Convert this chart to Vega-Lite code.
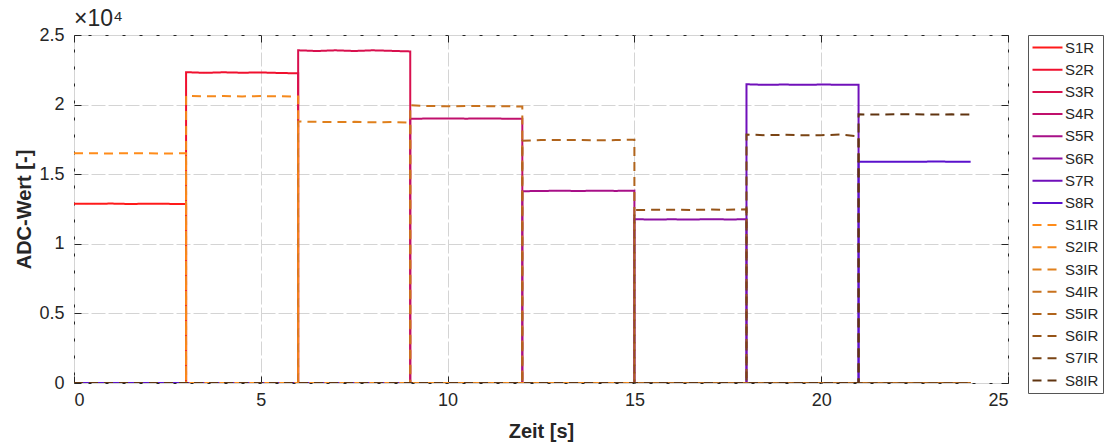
{
  "$schema": "https://vega.github.io/schema/vega-lite/v6.json",
  "width": 934,
  "height": 348,
  "autosize": "none",
  "padding": {"left": 74, "top": 35, "right": 107, "bottom": 63},
  "background": "white",
  "title": {"text": "×10⁴", "anchor": "start", "frame": "group", "fontSize": 23, "fontWeight": "normal", "font": "Liberation Sans", "color": "#262626", "offset": -5},
  "config": {
    "view": {"stroke": "#262626", "strokeWidth": 1},
    "font": "Liberation Sans"
  },
  "data": {"values": [
    {"s":"S1R","k":0,"t":0,"v":12880},{"s":"S1R","k":1,"t":0.5,"v":12870},{"s":"S1R","k":2,"t":1,"v":12890},{"s":"S1R","k":3,"t":1.5,"v":12860},{"s":"S1R","k":4,"t":2,"v":12880},{"s":"S1R","k":5,"t":2.5,"v":12870},{"s":"S1R","k":6,"t":3,"v":12850},{"s":"S1R","k":7,"t":3,"v":0},{"s":"S1R","k":8,"t":24,"v":0},
    {"s":"S2R","k":0,"t":0,"v":0},{"s":"S2R","k":1,"t":3,"v":0},{"s":"S2R","k":2,"t":3,"v":22330},{"s":"S2R","k":3,"t":3.5,"v":22280},{"s":"S2R","k":4,"t":4,"v":22320},{"s":"S2R","k":5,"t":4.5,"v":22290},{"s":"S2R","k":6,"t":5,"v":22310},{"s":"S2R","k":7,"t":5.5,"v":22270},{"s":"S2R","k":8,"t":6,"v":22250},{"s":"S2R","k":9,"t":6,"v":0},{"s":"S2R","k":10,"t":24,"v":0},
    {"s":"S3R","k":0,"t":0,"v":0},{"s":"S3R","k":1,"t":6,"v":0},{"s":"S3R","k":2,"t":6,"v":23900},{"s":"S3R","k":3,"t":6.5,"v":23850},{"s":"S3R","k":4,"t":7,"v":23900},{"s":"S3R","k":5,"t":7.5,"v":23850},{"s":"S3R","k":6,"t":8,"v":23900},{"s":"S3R","k":7,"t":8.5,"v":23860},{"s":"S3R","k":8,"t":9,"v":23820},{"s":"S3R","k":9,"t":9,"v":0},{"s":"S3R","k":10,"t":24,"v":0},
    {"s":"S4R","k":0,"t":0,"v":0},{"s":"S4R","k":1,"t":9,"v":0},{"s":"S4R","k":2,"t":9,"v":18980},{"s":"S4R","k":3,"t":9.5,"v":19000},{"s":"S4R","k":4,"t":10,"v":19010},{"s":"S4R","k":5,"t":10.5,"v":18990},{"s":"S4R","k":6,"t":11,"v":19010},{"s":"S4R","k":7,"t":11.5,"v":18990},{"s":"S4R","k":8,"t":12,"v":18980},{"s":"S4R","k":9,"t":12,"v":0},{"s":"S4R","k":10,"t":24,"v":0},
    {"s":"S5R","k":0,"t":0,"v":0},{"s":"S5R","k":1,"t":12,"v":0},{"s":"S5R","k":2,"t":12,"v":13780},{"s":"S5R","k":3,"t":12.5,"v":13790},{"s":"S5R","k":4,"t":13,"v":13820},{"s":"S5R","k":5,"t":13.5,"v":13790},{"s":"S5R","k":6,"t":14,"v":13820},{"s":"S5R","k":7,"t":14.5,"v":13800},{"s":"S5R","k":8,"t":15,"v":13820},{"s":"S5R","k":9,"t":15,"v":0},{"s":"S5R","k":10,"t":24,"v":0},
    {"s":"S6R","k":0,"t":0,"v":0},{"s":"S6R","k":1,"t":15,"v":0},{"s":"S6R","k":2,"t":15,"v":11770},{"s":"S6R","k":3,"t":15.5,"v":11740},{"s":"S6R","k":4,"t":16,"v":11760},{"s":"S6R","k":5,"t":16.5,"v":11740},{"s":"S6R","k":6,"t":17,"v":11770},{"s":"S6R","k":7,"t":17.5,"v":11750},{"s":"S6R","k":8,"t":18,"v":11760},{"s":"S6R","k":9,"t":18,"v":0},{"s":"S6R","k":10,"t":24,"v":0},
    {"s":"S7R","k":0,"t":0,"v":0},{"s":"S7R","k":1,"t":18,"v":0},{"s":"S7R","k":2,"t":18,"v":21460},{"s":"S7R","k":3,"t":18.5,"v":21420},{"s":"S7R","k":4,"t":19,"v":21440},{"s":"S7R","k":5,"t":19.5,"v":21420},{"s":"S7R","k":6,"t":20,"v":21440},{"s":"S7R","k":7,"t":20.5,"v":21430},{"s":"S7R","k":8,"t":21,"v":21420},{"s":"S7R","k":9,"t":21,"v":0},{"s":"S7R","k":10,"t":24,"v":0},
    {"s":"S8R","k":0,"t":0,"v":0},{"s":"S8R","k":1,"t":21,"v":0},{"s":"S8R","k":2,"t":21,"v":15900},{"s":"S8R","k":3,"t":21.5,"v":15890},{"s":"S8R","k":4,"t":22,"v":15900},{"s":"S8R","k":5,"t":22.5,"v":15890},{"s":"S8R","k":6,"t":23,"v":15910},{"s":"S8R","k":7,"t":23.5,"v":15900},{"s":"S8R","k":8,"t":24,"v":15900},
    {"s":"S1IR","k":0,"t":0,"v":16500},{"s":"S1IR","k":1,"t":0.5,"v":16500},{"s":"S1IR","k":2,"t":1,"v":16490},{"s":"S1IR","k":3,"t":1.5,"v":16510},{"s":"S1IR","k":4,"t":2,"v":16500},{"s":"S1IR","k":5,"t":2.5,"v":16490},{"s":"S1IR","k":6,"t":3,"v":16500},{"s":"S1IR","k":7,"t":3,"v":0},{"s":"S1IR","k":8,"t":24,"v":0},
    {"s":"S2IR","k":0,"t":0,"v":0},{"s":"S2IR","k":1,"t":3,"v":0},{"s":"S2IR","k":2,"t":3,"v":20620},{"s":"S2IR","k":3,"t":3.5,"v":20600},{"s":"S2IR","k":4,"t":4,"v":20610},{"s":"S2IR","k":5,"t":4.5,"v":20590},{"s":"S2IR","k":6,"t":5,"v":20610},{"s":"S2IR","k":7,"t":5.5,"v":20600},{"s":"S2IR","k":8,"t":6,"v":20580},{"s":"S2IR","k":9,"t":6,"v":0},{"s":"S2IR","k":10,"t":24,"v":0},
    {"s":"S3IR","k":0,"t":0,"v":0},{"s":"S3IR","k":1,"t":6,"v":0},{"s":"S3IR","k":2,"t":6,"v":18790},{"s":"S3IR","k":3,"t":6.5,"v":18760},{"s":"S3IR","k":4,"t":7,"v":18740},{"s":"S3IR","k":5,"t":7.5,"v":18760},{"s":"S3IR","k":6,"t":8,"v":18730},{"s":"S3IR","k":7,"t":8.5,"v":18750},{"s":"S3IR","k":8,"t":9,"v":18700},{"s":"S3IR","k":9,"t":9,"v":0},{"s":"S3IR","k":10,"t":24,"v":0},
    {"s":"S4IR","k":0,"t":0,"v":0},{"s":"S4IR","k":1,"t":9,"v":0},{"s":"S4IR","k":2,"t":9,"v":19950},{"s":"S4IR","k":3,"t":9.5,"v":19900},{"s":"S4IR","k":4,"t":10,"v":19880},{"s":"S4IR","k":5,"t":10.5,"v":19900},{"s":"S4IR","k":6,"t":11,"v":19890},{"s":"S4IR","k":7,"t":11.5,"v":19880},{"s":"S4IR","k":8,"t":12,"v":19860},{"s":"S4IR","k":9,"t":12,"v":0},{"s":"S4IR","k":10,"t":24,"v":0},
    {"s":"S5IR","k":0,"t":0,"v":0},{"s":"S5IR","k":1,"t":12,"v":0},{"s":"S5IR","k":2,"t":12,"v":17400},{"s":"S5IR","k":3,"t":12.5,"v":17450},{"s":"S5IR","k":4,"t":13,"v":17450},{"s":"S5IR","k":5,"t":13.5,"v":17460},{"s":"S5IR","k":6,"t":14,"v":17430},{"s":"S5IR","k":7,"t":14.5,"v":17450},{"s":"S5IR","k":8,"t":15,"v":17480},{"s":"S5IR","k":9,"t":15,"v":0},{"s":"S5IR","k":10,"t":24,"v":0},
    {"s":"S6IR","k":0,"t":0,"v":0},{"s":"S6IR","k":1,"t":15,"v":0},{"s":"S6IR","k":2,"t":15,"v":12420},{"s":"S6IR","k":3,"t":15.5,"v":12440},{"s":"S6IR","k":4,"t":16,"v":12450},{"s":"S6IR","k":5,"t":16.5,"v":12430},{"s":"S6IR","k":6,"t":17,"v":12460},{"s":"S6IR","k":7,"t":17.5,"v":12440},{"s":"S6IR","k":8,"t":18,"v":12480},{"s":"S6IR","k":9,"t":18,"v":0},{"s":"S6IR","k":10,"t":24,"v":0},
    {"s":"S7IR","k":0,"t":0,"v":0},{"s":"S7IR","k":1,"t":18,"v":0},{"s":"S7IR","k":2,"t":18,"v":17850},{"s":"S7IR","k":3,"t":18.5,"v":17800},{"s":"S7IR","k":4,"t":19,"v":17830},{"s":"S7IR","k":5,"t":19.5,"v":17790},{"s":"S7IR","k":6,"t":20,"v":17800},{"s":"S7IR","k":7,"t":20.5,"v":17850},{"s":"S7IR","k":8,"t":21,"v":17720},{"s":"S7IR","k":9,"t":21,"v":0},{"s":"S7IR","k":10,"t":24,"v":0},
    {"s":"S8IR","k":0,"t":0,"v":0},{"s":"S8IR","k":1,"t":21,"v":0},{"s":"S8IR","k":2,"t":21,"v":19300},{"s":"S8IR","k":3,"t":21.5,"v":19280},{"s":"S8IR","k":4,"t":22,"v":19310},{"s":"S8IR","k":5,"t":22.5,"v":19300},{"s":"S8IR","k":6,"t":23,"v":19290},{"s":"S8IR","k":7,"t":23.5,"v":19300},{"s":"S8IR","k":8,"t":24,"v":19280}
  ]},
  "layer": [
    {
      "mark": {"type": "line", "strokeWidth": 2, "clip": true},
      "encoding": {
        "x": {"field": "t", "type": "quantitative", "scale": {"domain": [0, 25], "nice": false, "zero": false},
          "axis": {"title": "Zeit [s]", "values": [0, 5, 10, 15, 20, 25], "titleFontSize": 20, "titleFontWeight": "bold", "titleColor": "#262626", "titlePadding": 12,
            "labelFontSize": 18, "labelColor": "#262626", "labelPadding": 15, "domain": false, "tickSize": -7, "tickColor": "#262626",
            "grid": true, "gridColor": "#d4d4d4", "gridDash": [14, 3], "gridWidth": 1}},
        "y": {"field": "v", "type": "quantitative", "scale": {"domain": [0, 25000], "nice": false},
          "axis": {"title": "ADC-Wert [-]", "values": [0, 5000, 10000, 15000, 20000, 25000], "labelExpr": "datum.value / 10000", "titleFontSize": 20, "titleFontWeight": "bold", "titleColor": "#262626", "titlePadding": 4,
            "labelFontSize": 18, "labelColor": "#262626", "labelPadding": 17, "domain": false, "tickSize": -7, "tickColor": "#262626",
            "grid": true, "gridColor": "#d4d4d4", "gridDash": [14, 3], "gridWidth": 1}},
        "color": {"field": "s", "type": "nominal",
          "scale": {"domain": ["S1R","S2R","S3R","S4R","S5R","S6R","S7R","S8R","S1IR","S2IR","S3IR","S4IR","S5IR","S6IR","S7IR","S8IR"],
            "range": ["#ff1a1a","#f0102e","#d8104e","#c0106c","#a81088","#8c10a2","#7010ba","#5a10cc","#ff8c1a","#f5891c","#e0801c","#c8721e","#b0641c","#965418","#7a4414","#603410"]},
          "legend": {"title": null, "orient": "none", "legendX": 954, "legendY": 0, "symbolType": "M-2,0H2", "symbolSize": 225, "symbolStrokeWidth": 2,
            "labelFontSize": 15, "labelColor": "#262626", "labelOffset": 9, "rowPadding": 5.2, "padding": 4, "strokeColor": "#555555", "fillColor": "white", "symbolOffset": 7}},
        "strokeDash": {"field": "s", "type": "nominal",
          "scale": {"domain": ["S1R","S2R","S3R","S4R","S5R","S6R","S7R","S8R","S1IR","S2IR","S3IR","S4IR","S5IR","S6IR","S7IR","S8IR"],
            "range": [[1,0],[1,0],[1,0],[1,0],[1,0],[1,0],[1,0],[1,0],[9,6],[9,6],[9,6],[9,6],[9,6],[9,6],[9,6],[9,6]]},
          "legend": {"title": null}},
        "order": {"field": "k", "type": "quantitative"}
      }
    },
    {
      "mark": {"type": "point", "opacity": 0},
      "encoding": {
        "x": {"field": "t", "type": "quantitative", "axis": {"orient": "top", "title": null, "labels": false, "values": [0, 5, 10, 15, 20, 25], "domain": false, "tickSize": -7, "tickColor": "#262626", "grid": false}},
        "y": {"field": "v", "type": "quantitative", "axis": {"orient": "right", "title": null, "labels": false, "values": [0, 5000, 10000, 15000, 20000, 25000], "domain": false, "tickSize": -7, "tickColor": "#262626", "grid": false}}
      }
    }
  ],
  "resolve": {"axis": {"x": "independent", "y": "independent"}}
}
